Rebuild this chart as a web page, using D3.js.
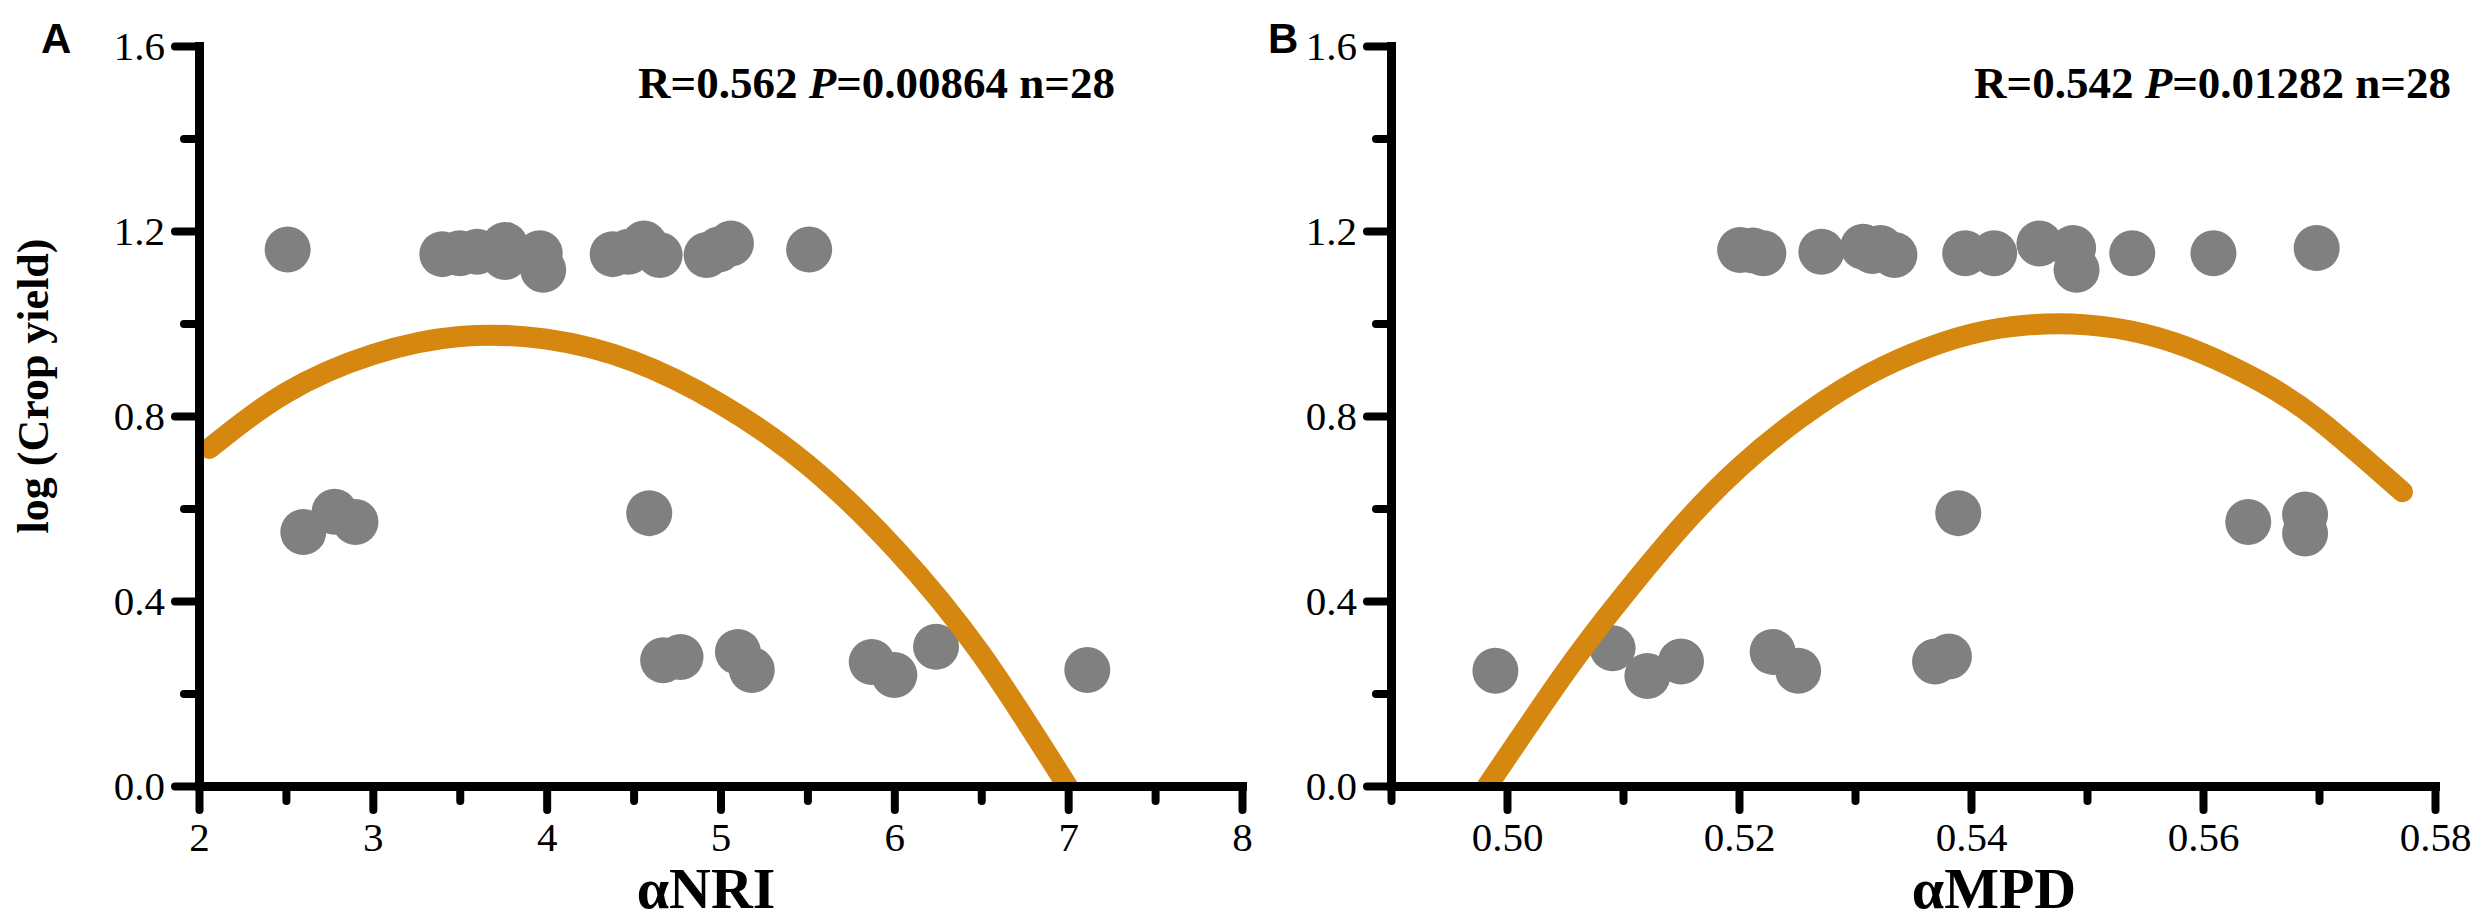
<!DOCTYPE html>
<html>
<head>
<meta charset="utf-8">
<script src="https://cdn.jsdelivr.net/npm/d3@7"></script>
<style>
  html, body { margin: 0; padding: 0; background: #fff; }
  svg { display: block; }
</style>
</head>
<body>
<svg id="chart" width="2478" height="920"></svg>
<script>
// ---------------- data ----------------
const nriX = [2.51, 3.40, 3.50, 3.60, 3.76, 3.76, 3.96, 3.98, 4.38, 4.47, 4.56, 4.65, 4.92, 4.99, 5.06, 5.51,
              2.60, 2.78, 2.90, 4.59,
              4.67, 4.77, 5.10, 5.18, 5.87, 6.00, 6.24, 7.11];
const nriY = [1.160, 1.150, 1.152, 1.155, 1.170, 1.144, 1.152, 1.116, 1.150, 1.155, 1.173, 1.148, 1.148, 1.160, 1.173, 1.160,
              0.549, 0.593, 0.571, 0.590,
              0.272, 0.279, 0.290, 0.251, 0.268, 0.240, 0.301, 0.251];

const mpdX = [0.5201, 0.5212, 0.5221, 0.5271, 0.5307, 0.5315, 0.5322, 0.5334, 0.5395, 0.5420, 0.5459, 0.5488, 0.5491, 0.5539, 0.5609, 0.5698,
              0.5389, 0.5639, 0.5688, 0.5688,
              0.4990, 0.5091, 0.5121, 0.5150, 0.5229, 0.5251, 0.5369, 0.5381];
const mpdY = [1.159, 1.158, 1.152, 1.155, 1.166, 1.157, 1.163, 1.148, 1.152, 1.152, 1.173, 1.163, 1.116, 1.152, 1.152, 1.163,
              0.590, 0.571, 0.587, 0.546,
              0.249, 0.298, 0.238, 0.269, 0.290, 0.249, 0.269, 0.280];

// fitted curves
const fitNriX = [2.06, 2.5, 3.0, 3.5, 4.0, 4.5, 5.0, 5.5, 6.0, 6.5, 7.05];
const fitNriY = [0.730, 0.850, 0.933, 0.972, 0.966, 0.918, 0.826, 0.695, 0.515, 0.285, -0.033];
const fitMpdX = [0.4975, 0.505, 0.51, 0.515, 0.52, 0.525, 0.53, 0.535, 0.54, 0.545, 0.55, 0.555, 0.56, 0.565, 0.57, 0.5772];
const fitMpdY = [-0.03, 0.245, 0.410, 0.560, 0.688, 0.791, 0.874, 0.935, 0.977, 0.997, 0.997, 0.977, 0.935, 0.874, 0.791, 0.636];

// ticks
const yTicks = [0.0, 0.4, 0.8, 1.2, 1.6];
const yMinor = [0.2, 0.6, 1.0, 1.4];
const nriTicks = [2, 3, 4, 5, 6, 7, 8];
const nriMinor = [2.5, 3.5, 4.5, 5.5, 6.5, 7.5];
const mpdTicks = [0.50, 0.52, 0.54, 0.56, 0.58];
const mpdMinor = [0.49, 0.51, 0.53, 0.55, 0.57];

const yTitle = "log (Crop yield)";
const panels = [
  { letter: "A", xTitle: "NRI", xs: nriX, ys: nriY, fx: fitNriX, fy: fitNriY,
    domain: [2, 8], ticks: nriTicks, minor: nriMinor, fmt: d3.format("d"),
    R: "0.562", P: "0.00864", n: "28" },
  { letter: "B", xTitle: "MPD", xs: mpdX, ys: mpdY, fx: fitMpdX, fy: fitMpdY,
    domain: [0.49, 0.58], ticks: mpdTicks, minor: mpdMinor, fmt: d3.format(".2f"),
    R: "0.542", P: "0.01282", n: "28" }
];

// ---------------- layout ----------------
const layout = [
  { x0: 199, x1: 1242, letterX: 41, yTitleX: 48, noteX: 638, titleX: 706 },
  { x0: 1391, x1: 2435, letterX: 1268, yTitleX: null, noteX: 1974, titleX: 1994 }
];
const yTop = 46, yBot = 786;
const ORANGE = "#d5870f", GREY = "#808080";
const SERIF = "'Liberation Serif', 'Times New Roman', serif";
const SANS = "'Liberation Sans', Arial, sans-serif";

const svg = d3.select("#chart");
svg.append("rect").attr("width", 2478).attr("height", 920).attr("fill", "#fff");

const y = d3.scaleLinear().domain([0, 1.6]).range([yBot, yTop]);

panels.forEach((p, i) => {
  const L = layout[i];
  const x = d3.scaleLinear().domain(p.domain).range([L.x0, L.x1]);
  const g = svg.append("g");

  // clip for curve
  const clipId = "clip" + i;
  svg.append("clipPath").attr("id", clipId)
    .append("rect").attr("x", L.x0).attr("y", 0)
    .attr("width", L.x1 - L.x0 + 40).attr("height", yBot);

  // points
  g.append("g").selectAll("circle")
    .data(d3.range(p.xs.length))
    .join("circle")
    .attr("cx", k => x(p.xs[k]))
    .attr("cy", k => y(p.ys[k]))
    .attr("r", 23)
    .attr("fill", GREY);

  // fitted curve
  const line = d3.line().x(k => x(p.fx[k])).y(k => y(p.fy[k])).curve(d3.curveNatural);
  g.append("path")
    .attr("clip-path", `url(#${clipId})`)
    .attr("d", line(d3.range(p.fx.length)))
    .attr("fill", "none")
    .attr("stroke", ORANGE)
    .attr("stroke-width", 21)
    .attr("stroke-linecap", "round");

  // minor ticks
  const yMin = g.append("g").attr("transform", `translate(${L.x0},0)`)
    .call(d3.axisLeft(y).tickValues(yMinor).tickSize(15).tickFormat(""));
  const xMin = g.append("g").attr("transform", `translate(0,${yBot})`)
    .call(d3.axisBottom(x).tickValues(p.minor).tickSize(15).tickFormat(""));
  [yMin, xMin].forEach(a => a.select(".domain").remove());

  // major axes
  const yAx = g.append("g").attr("transform", `translate(${L.x0},0)`)
    .call(d3.axisLeft(y).tickValues(yTicks).tickSize(24).tickSizeOuter(0)
      .tickPadding(10).tickFormat(d3.format(".1f")));
  const xAx = g.append("g").attr("transform", `translate(0,${yBot})`)
    .call(d3.axisBottom(x).tickValues(p.ticks).tickSize(24).tickSizeOuter(0)
      .tickPadding(12).tickFormat(p.fmt));

  [yMin, xMin, yAx, xAx].forEach(a => {
    a.selectAll(".tick line").attr("stroke", "#000").attr("stroke-width", 8).attr("stroke-linecap", "round");
    a.selectAll(".domain").attr("stroke", "#000").attr("stroke-width", 9).attr("stroke-linecap", "square");
    a.selectAll("text").attr("font-size", 41).attr("font-family", SERIF).attr("fill", "#000");
  });

  // panel letter
  svg.append("text").attr("x", L.letterX).attr("y", 53)
    .attr("font-family", SANS)
    .attr("font-weight", "bold").attr("font-size", 42)
    .text(p.letter);

  // stats annotation
  const note = svg.append("text").attr("x", L.noteX).attr("y", 98)
    .attr("font-family", SERIF)
    .attr("font-weight", "bold").attr("font-size", 45);
  note.append("tspan").text(`R=${p.R} `);
  note.append("tspan").attr("font-style", "italic").text("P");
  note.append("tspan").text(`=${p.P} n=${p.n}`);

  // x title
  const xt = svg.append("text")
    .attr("x", L.titleX).attr("y", 908)
    .attr("text-anchor", "middle")
    .attr("font-family", SERIF)
    .attr("font-weight", "bold").attr("font-size", 58);
  xt.append("tspan").text("α");
  xt.append("tspan").text(p.xTitle);

  if (L.yTitleX !== null) {
    svg.append("text")
      .attr("transform", `translate(${L.yTitleX},386) rotate(-90)`)
      .attr("text-anchor", "middle")
      .attr("font-family", SERIF)
      .attr("font-weight", "bold").attr("font-size", 44)
      .text(yTitle);
  }
});
</script>
</body>
</html>
